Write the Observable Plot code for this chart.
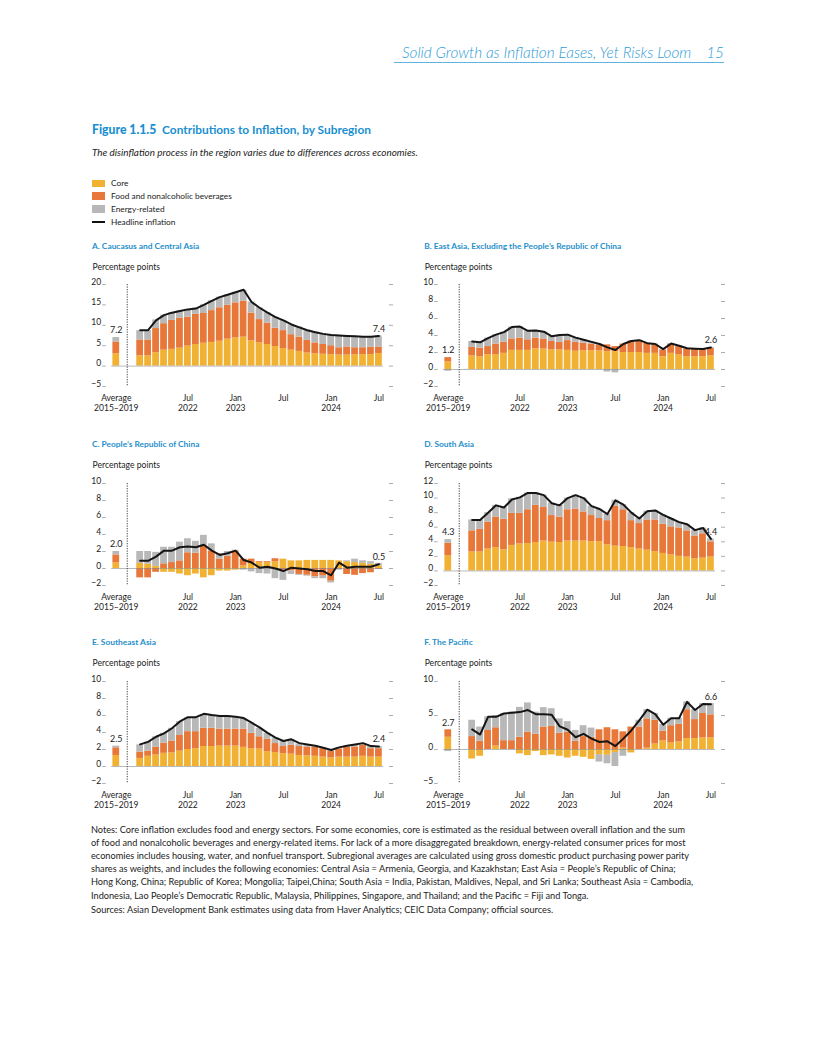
<!DOCTYPE html>
<html><head><meta charset="utf-8">
<script src="https://cdn.jsdelivr.net/npm/d3@7"></script>
<script src="https://cdn.jsdelivr.net/npm/@observablehq/plot@0.6"></script>
<style>
body{margin:0;background:#fff;font-family:Lato,sans-serif;color:#222;}
#page{position:relative;width:816px;height:1056px;overflow:hidden;background:#fff;}
.t{position:absolute;white-space:nowrap;}
</style></head><body><div id="page"></div>
<script>
// ---------- categories ----------
const months = ["2022-01","2022-02","2022-03","2022-04","2022-05","2022-06","2022-07","2022-08","2022-09","2022-10","2022-11","2022-12",
"2023-01","2023-02","2023-03","2023-04","2023-05","2023-06","2023-07","2023-08","2023-09","2023-10","2023-11","2023-12",
"2024-01","2024-02","2024-03","2024-04","2024-05","2024-06","2024-07"];
const tickKeys = ["avg","2022-07","2023-01","2023-07","2024-01","2024-07"];
const tickTexts = ["Average\n2015–2019","Jul\n2022","Jan\n2023","Jul","Jan\n2024","Jul"];
const seriesNames = ["Core","Food and nonalcoholic beverages","Energy-related"];
const seriesColors = ["#f1b233","#e8773a","#b8b8b8"];

// ---------- A. Caucasus and Central Asia ----------
const aCore   = [2.5,2.5,3.3,3.9,4.1,4.4,4.9,5.3,5.6,5.8,6.1,6.6,6.9,7.1,6.2,5.7,5.3,4.8,4.3,3.9,3.6,3.2,3.0,2.9,2.8,2.7,2.7,2.8,2.8,2.8,3.1];
const aFood   = [3.9,3.9,5.9,6.5,7.1,7.3,7.1,7.4,7.3,7.8,8.2,8.3,8.6,8.8,6.8,5.7,5.2,4.5,4.4,3.8,3.5,3.1,2.7,2.4,2.2,1.8,2.0,1.7,1.7,1.8,1.6];
const aEnergy = [2.3,2.3,2.1,2.1,1.9,1.8,1.9,1.5,2.1,2.4,2.6,2.6,2.6,2.7,2.7,2.9,2.6,2.7,2.5,2.4,2.5,2.5,2.7,2.6,2.6,3.0,2.6,2.7,2.7,2.6,2.7];
const aHead   = [8.8,8.8,11.2,12.5,13.1,13.5,13.9,14.1,15.0,16.0,16.9,17.5,18.1,18.7,15.7,14.3,13.1,12.0,11.2,10.2,9.5,8.8,8.3,7.9,7.6,7.5,7.4,7.3,7.2,7.2,7.4];
const aAvg    = [3.0,2.9,1.1];
const aLabels = ["7.2","7.4"];

// ---------- B. East Asia, excluding PRC ----------
const bCore   = [1.6,1.5,1.75,1.75,1.9,2.25,2.25,2.25,2.45,2.4,2.3,2.3,2.25,2.15,2.2,2.2,2.2,2.1,2.1,2.0,2.0,2.0,1.9,1.9,1.5,1.9,1.7,1.5,1.5,1.5,1.6];
const bFood   = [1.0,1.0,0.95,1.25,1.3,1.35,1.45,1.25,1.25,1.2,1.0,0.9,1.15,1.05,0.9,0.8,0.65,0.8,0.6,1.0,1.35,1.4,1.2,1.0,0.8,1.1,1.0,0.9,0.9,0.85,0.9];
const bEnergy = [0.7,0.7,1.0,1.1,1.2,1.4,1.35,1.05,0.9,0.85,0.6,0.8,0.7,0.55,0.4,0.25,0.15,-0.3,-0.4,0.0,0.0,0.05,0.0,0.1,0.1,0.05,0.1,0.1,0.05,0.05,0.1];
const bHead   = [3.3,3.2,3.7,4.1,4.4,5.0,5.05,4.55,4.6,4.45,3.9,4.05,4.1,3.75,3.5,3.25,3.0,2.6,2.3,3.0,3.35,3.45,3.1,3.0,2.4,3.05,2.8,2.5,2.45,2.4,2.6];
const bAvg    = [0.9,0.5,-0.2];
const bLabels = ["1.2","2.6"];

// ---------- C. People's Republic of China ----------
const cCore   = [0.6,0.5,0.25,-0.45,-0.45,-0.65,-0.85,-0.65,-1.1,-0.85,-0.3,-0.3,-0.2,0.3,0.6,0.7,0.7,0.8,1.1,0.9,0.9,0.95,0.95,0.95,0.95,0.9,0.8,0.7,0.6,0.5,0.3];
const cFood   = [-1.1,-1.1,-0.45,0.55,0.7,0.9,1.85,1.8,2.7,2.05,1.1,1.45,2.05,0.8,0.5,0.1,0.1,0.35,-0.2,-0.3,-0.7,-0.8,-1.0,-0.9,-1.5,-0.1,-0.7,-0.8,-0.6,-0.5,-0.1];
const cEnergy = [1.4,1.5,1.65,1.95,1.8,2.2,1.65,1.4,1.2,0.85,0.65,0.55,0.1,-0.2,-0.4,-0.6,-0.65,-1.2,-1.2,-0.4,-0.1,-0.1,-0.2,-0.3,-0.2,-0.1,0.1,0.4,0.3,0.3,0.3];
const cHead   = [0.9,0.9,1.4,2.1,2.1,2.5,2.6,2.5,2.8,2.1,1.6,1.8,2.1,1.0,0.7,0.1,0.2,0.0,-0.3,0.1,0.0,-0.1,-0.3,-0.3,-0.8,0.7,0.1,0.2,0.2,0.2,0.5];
const cAvg    = [0.65,0.95,0.4];
const cLabels = ["2.0","0.5"];

// ---------- D. South Asia ----------
const dCore   = [2.6,2.6,3.0,3.2,2.9,3.5,3.7,3.75,3.9,4.1,3.95,3.9,4.1,4.1,4.1,4.0,4.0,3.6,3.4,3.35,3.2,3.0,2.85,2.65,2.4,2.2,2.0,1.9,1.65,1.75,1.9];
const dFood   = [2.9,3.1,3.7,4.2,4.2,4.4,4.2,4.65,5.1,4.6,3.65,3.5,4.3,4.4,4.0,3.6,3.2,3.3,5.5,5.05,3.7,3.5,4.15,4.35,4.0,3.85,3.9,3.6,3.15,3.35,2.1];
const dEnergy = [1.5,1.3,1.3,1.6,1.6,2.0,2.2,2.3,1.7,1.7,1.7,1.6,1.6,1.9,1.9,1.3,1.3,0.9,0.8,0.7,1.1,0.7,1.2,1.3,1.3,1.15,0.8,0.9,0.8,0.8,0.4];
const dHead   = [7.0,7.0,8.0,9.0,8.7,9.8,10.1,10.7,10.7,10.4,9.3,9.0,10.0,10.4,10.0,8.9,8.5,7.8,9.7,9.1,8.0,7.2,8.2,8.3,7.7,7.2,6.7,6.4,5.6,5.9,4.4];
const dAvg    = [2.1,1.7,0.5];
const dLabels = ["4.3","4.4"];

// ---------- E. Southeast Asia ----------
const eCore   = [0.95,1.2,1.35,1.55,1.6,1.8,2.0,2.1,2.35,2.35,2.4,2.4,2.4,2.25,2.1,2.05,1.75,1.65,1.5,1.45,1.3,1.25,1.2,1.1,1.0,1.1,1.1,1.1,1.2,1.1,1.1];
const eFood   = [0.75,0.6,0.9,1.2,1.4,1.85,2.1,2.0,2.15,2.15,2.0,2.0,2.0,2.15,1.8,1.45,1.45,1.05,0.85,1.05,1.05,1.05,1.1,1.0,0.8,0.95,1.15,1.2,1.3,1.0,1.0];
const eEnergy = [0.85,1.1,1.25,1.15,1.5,1.65,1.6,1.65,1.6,1.5,1.4,1.45,1.4,1.25,1.2,1.0,0.7,0.65,0.6,0.7,0.3,0.2,0.1,0.1,0.1,0.15,0.15,0.2,0.2,0.25,0.25];
const eHead   = [2.6,2.9,3.5,3.9,4.5,5.3,5.8,5.8,6.2,6.05,5.95,5.95,5.85,5.7,5.15,4.6,3.95,3.4,3.0,3.2,2.75,2.6,2.45,2.2,1.95,2.25,2.45,2.6,2.75,2.4,2.35];
const eAvg    = [1.3,0.9,0.2];
const eLabels = ["2.5","2.4"];

// ---------- F. The Pacific ----------
const fCore   = [-1.4,-1.0,0.0,0.5,0.0,0.0,-0.65,-0.9,-0.3,-0.9,-0.8,-1.0,-1.25,-1.0,-1.15,-1.45,-0.75,-0.85,-0.45,0.2,-0.5,0.0,0.2,0.8,1.25,0.95,1.1,1.6,1.6,1.7,1.7];
const fFood   = [1.9,1.2,2.8,2.7,1.3,1.3,1.8,2.55,2.25,3.3,3.4,2.4,2.55,1.2,1.9,1.8,2.9,3.2,2.9,2.4,3.3,3.3,4.3,3.5,1.45,2.55,2.6,4.25,2.8,3.6,3.4];
const fEnergy = [2.4,2.1,2.0,1.8,4.0,4.2,4.4,4.3,3.25,2.85,2.6,2.1,1.55,1.6,1.6,1.35,-1.1,-1.25,-2.05,-1.0,0.0,1.0,1.35,1.0,1.0,1.1,0.9,1.15,1.45,1.45,1.65];
const fHead   = [2.95,2.2,4.8,4.8,5.3,5.4,5.5,5.8,5.2,5.2,5.1,3.4,2.9,1.8,2.3,1.6,1.1,1.2,0.5,1.6,2.8,4.3,5.85,5.2,3.65,4.6,4.6,7.0,5.8,6.7,6.65];
const fAvg    = [1.8,1.1,-0.3];
const fLabels = ["2.7","6.6"];

// ---------- layout (positions only) ----------
const colLeft = [88, 420.2];
const rowTop = [284, 482.5, 680.5];
const frameH = 102;
const panels = [
  {title:"A. Caucasus and Central Asia", col:0, row:0, core:aCore, food:aFood, energy:aEnergy, head:aHead, avg:aAvg, labels:aLabels, domain:[-5,20], ticks:[-5,0,5,10,15,20]},
  {title:"B. East Asia, Excluding the People’s Republic of China", col:1, row:0, core:bCore, food:bFood, energy:bEnergy, head:bHead, avg:bAvg, labels:bLabels, domain:[-2,10], ticks:[-2,0,2,4,6,8,10]},
  {title:"C. People’s Republic of China", col:0, row:1, core:cCore, food:cFood, energy:cEnergy, head:cHead, avg:cAvg, labels:cLabels, domain:[-2,10], ticks:[-2,0,2,4,6,8,10]},
  {title:"D. South Asia", col:1, row:1, core:dCore, food:dFood, energy:dEnergy, head:dHead, avg:dAvg, labels:dLabels, domain:[-2,12], ticks:[-2,0,2,4,6,8,10,12]},
  {title:"E. Southeast Asia", col:0, row:2, core:eCore, food:eFood, energy:eEnergy, head:eHead, avg:eAvg, labels:eLabels, domain:[-2,10], ticks:[-2,0,2,4,6,8,10]},
  {title:"F. The Pacific", col:1, row:2, core:fCore, food:fFood, energy:fEnergy, head:fHead, avg:fAvg, labels:fLabels, domain:[-5,10], ticks:[-5,0,5,10]}
];

const page = document.getElementById("page");
function addText(html, left, centerY, size, style = "") {
  const d = document.createElement("div");
  d.className = "t";
  const lh = Math.round(size * 1.25);
  d.style.cssText = `left:${left}px;top:${centerY - lh / 2}px;font-size:${size}px;line-height:${lh}px;${style}`;
  d.innerHTML = html;
  page.appendChild(d);
  return d;
}

// header
addText("Solid Growth as Inflation Eases, Yet Risks Loom<span style='display:inline-block;width:15px'></span>15", 0, 52.5, 15.3,
  "left:auto;right:92px;font-style:italic;font-weight:300;color:#2d9bd6;");
const hline = document.createElement("div");
hline.style.cssText = "position:absolute;left:394px;width:330px;top:62px;border-top:1px solid #5fb3de;";
page.appendChild(hline);

// figure title & subtitle
addText("<span style='font-weight:900;font-size:12.2px;'>Figure 1.1.5</span>&nbsp; Contributions to Inflation, by Subregion", 92, 129, 11.9,
  "font-weight:700;color:#1a8fd0;");
addText("The disinflation process in the region varies due to differences across economies.", 92, 151.5, 9.9, "font-style:italic;color:#222;");

// legend
const legY = [183.3, 196, 209];
seriesNames.forEach((n, i) => {
  const sw = document.createElement("div");
  sw.style.cssText = `position:absolute;left:92px;top:${legY[i] - 3.6}px;width:13.4px;height:7.2px;background:${seriesColors[i]};`;
  page.appendChild(sw);
  addText(n, 111, legY[i], 8.3, "color:#222;");
});
const lsw = document.createElement("div");
lsw.style.cssText = "position:absolute;left:92px;top:220.8px;width:13.4px;height:2px;background:#111;";
page.appendChild(lsw);
addText("Headline inflation", 111, 221.7, 8.3, "color:#222;");

// panels
const xDomain = ["avg", "gap1", "gap2", ...months];
function drawPanel(p) {
  const left = colLeft[p.col];
  const top = rowTop[p.row];
  addText(p.title, left + 4, top - 38, 8.4, "font-weight:700;color:#1f8fcb;");
  addText("Percentage points", left + 4.5, top - 17, 8.6, "color:#222;");
  const keys = ["avg", ...months];
  const rows = [];
  keys.forEach((k, i) => {
    const vals = i === 0 ? p.avg : [p.core[i - 1], p.food[i - 1], p.energy[i - 1]];
    seriesNames.forEach((s, j) => rows.push({x: k, s, v: vals[j]}));
  });
  const lineData = months.map((m, i) => ({x: m, y: p.head[i]}));
  const avgTop = d3.sum(p.avg.filter(v => v > 0));
  const labelData = [
    {x: "avg", y: avgTop, t: p.labels[0]},
    {x: months[months.length - 1], y: p.head[p.head.length - 1], t: p.labels[1]}
  ];
  const mt = 10, mb = 32;
  const svg = Plot.plot({
    width: 310,
    height: mt + frameH + mb,
    marginTop: mt, marginBottom: mb, marginLeft: 23.2, marginRight: 15,
    style: {fontFamily: "Lato, sans-serif", fontSize: "8.5px", color: "#222", background: "transparent", overflow: "visible"},
    x: {type: "band", domain: xDomain, padding: 0.15, axis: null},
    y: {domain: p.domain, axis: null},
    color: {domain: seriesNames, range: seriesColors},
    marks: [
      Plot.barY(rows, {x: "x", y: "v", fill: "s"}),
      Plot.ruleY([0], {stroke: "#8a8a8a", strokeWidth: 0.6}),
      Plot.ruleX(["gap1"], {dx: 3, stroke: "#555", strokeWidth: 1.1, strokeDasharray: "1.2,1.3"}),
      Plot.line(lineData, {x: "x", y: "y", stroke: "#151515", strokeWidth: 2, strokeLinejoin: "round"}),
      Plot.text(labelData, {x: "x", y: "y", text: "t", dy: -7, fontSize: 9, fill: "#222"}),
      Plot.axisY({ticks: p.ticks, anchor: "left", tickSize: 3.5, dx: -5.5, stroke: "#8a8a8a", strokeWidth: 0.7, tickFormat: () => "", label: null}),
      Plot.axisY({ticks: p.ticks, anchor: "left", tickSize: 0, tickPadding: 10.5, dy: -2.7, fontSize: 8.5, fill: "#222", label: null}),
      Plot.axisY({ticks: p.ticks, anchor: "right", tickSize: 4, dx: 5, stroke: "#8a8a8a", strokeWidth: 0.7, tickFormat: () => "", label: null}),
      Plot.axisX({ticks: tickKeys, tickFormat: d => tickTexts[tickKeys.indexOf(d)], anchor: "bottom", tickSize: 0, tickPadding: 7, fontSize: 8.5, lineHeight: 1.2, fill: "#222", label: null})
    ]
  });
  svg.style.position = "absolute";
  svg.style.left = left + "px";
  svg.style.top = (top - mt) + "px";
  page.appendChild(svg);
}
panels.forEach(drawPanel);

// notes
const notes = [
  "Notes: Core inflation excludes food and energy sectors. For some economies, core is estimated as the residual between overall inflation and the sum",
  "of food and nonalcoholic beverages and energy-related items. For lack of a more disaggregated breakdown, energy-related consumer prices for most",
  "economies includes housing, water, and nonfuel transport. Subregional averages are calculated using gross domestic product purchasing power parity",
  "shares as weights, and includes the following economies: Central Asia = Armenia, Georgia, and Kazakhstan; East Asia = People’s Republic of China;",
  "Hong Kong, China; Republic of Korea; Mongolia; Taipei,China; South Asia = India, Pakistan, Maldives, Nepal, and Sri Lanka; Southeast Asia = Cambodia,",
  "Indonesia, Lao People’s Democratic Republic, Malaysia, Philippines, Singapore, and Thailand; and the Pacific = Fiji and Tonga."
];
notes.forEach((n, i) => addText(n, 91, 829.5 + i * 13.2, 9.2, "color:#222;"));
addText("Sources: Asian Development Bank estimates using data from Haver Analytics; CEIC Data Company; official sources.", 91, 910, 9.2, "color:#222;");
</script>
</body></html>
